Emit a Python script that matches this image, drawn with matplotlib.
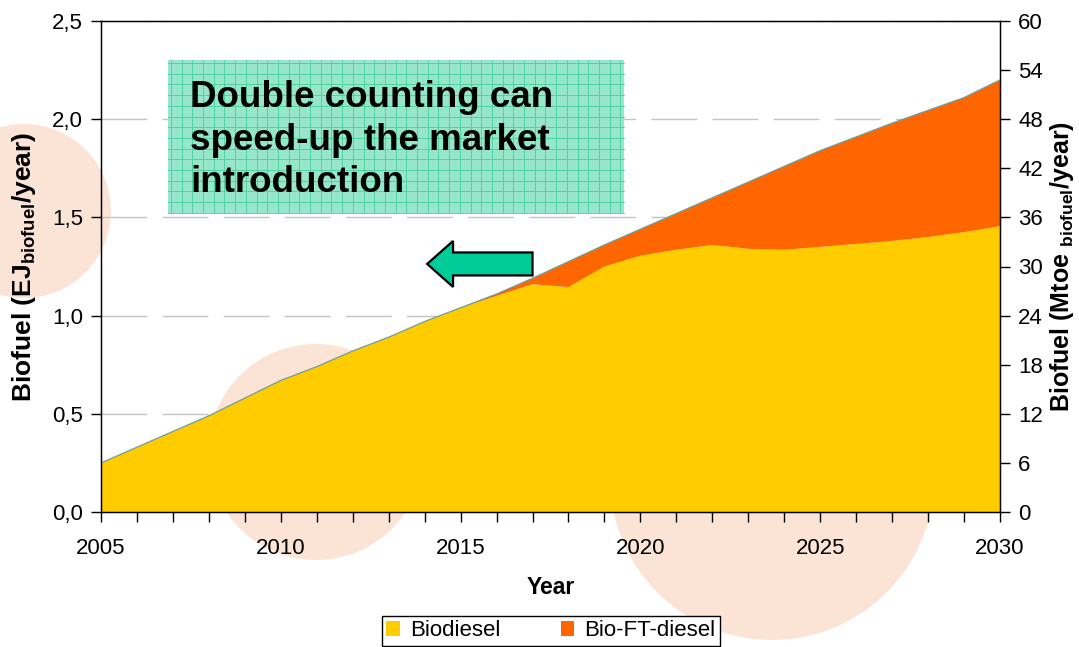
import numpy as np
import matplotlib
matplotlib.use('Agg')
import matplotlib.pyplot as plt
from matplotlib.patches import Circle, Rectangle, FancyArrow

plt.rcParams['font.family'] = ['Liberation Sans', 'DejaVu Sans']
plt.rcParams['mathtext.fontset'] = 'custom'
plt.rcParams['mathtext.rm'] = 'Liberation Sans'
plt.rcParams['mathtext.bf'] = 'Liberation Sans:bold'

years = list(range(2005, 2031))
biodiesel = [0.25, 0.33, 0.41, 0.49, 0.58, 0.67, 0.74, 0.82, 0.89, 0.97,
             1.04, 1.10, 1.16, 1.145, 1.25, 1.305, 1.335, 1.36, 1.34, 1.335,
             1.35, 1.365, 1.38, 1.40, 1.425, 1.455]
bio_ft = [0, 0, 0, 0, 0, 0, 0, 0, 0, 0,
          0, 0.01, 0.03, 0.13, 0.11, 0.135, 0.185, 0.24, 0.34, 0.425,
          0.49, 0.545, 0.60, 0.645, 0.685, 0.745]
series_names = ['Biodiesel', 'Bio-FT-diesel']

left_ticks = [0.0, 0.5, 1.0, 1.5, 2.0, 2.5]
left_labels = ['0,0', '0,5', '1,0', '1,5', '2,0', '2,5']
right_ticks = [0, 6, 12, 18, 24, 30, 36, 42, 48, 54, 60]
year_labels = [2005, 2010, 2015, 2020, 2025, 2030]

note = 'Double counting can\nspeed-up the market\nintroduction'

YELLOW = '#ffcc00'
ORANGE = '#ff6600'
PEACH = '#fbe4d5'

W, H = 1079, 647
fig = plt.figure(figsize=(W / 100, H / 100), dpi=100)

# decorative circles behind everything, in pixel units
bg = fig.add_axes([0, 0, 1, 1], zorder=-1)
bg.set_xlim(0, W)
bg.set_ylim(H, 0)
bg.axis('off')
for (cx, cy, r) in [(24, 211, 87), (316, 452, 108), (772, 478, 162)]:
    bg.add_patch(Circle((cx, cy), r, color=PEACH, lw=0))

ax = fig.add_axes([101 / W, 1 - 512 / H, 899 / W, 491 / H])
ax.patch.set_visible(False)
ax.set_axisbelow(True)

total = np.array(biodiesel) + np.array(bio_ft)
ax.stackplot(years, biodiesel, bio_ft, colors=[YELLOW, ORANGE],
             labels=series_names, lw=0, zorder=2)
ax.plot(years, total, color='#6f9c9c', lw=0.9, zorder=3)

ax.set_xlim(2005, 2030)
ax.set_ylim(0, 2.5)
ax.set_yticks(left_ticks)
ax.set_yticklabels(left_labels)
ax.set_xticks(year_labels)
ax.set_xticks(years, minor=True)
ax.tick_params(axis='both', which='both', direction='out', length=7,
               width=1, labelsize=16, colors='black', pad=6)
ax.tick_params(axis='x', which='both', pad=12)
ax.yaxis.grid(True, color='#c4c4c4', lw=1, dashes=(33, 11))
for s in ax.spines.values():
    s.set_color('black')
    s.set_linewidth(1)

ax.set_xlabel('Year', fontsize=16.5, fontweight='bold', labelpad=12)
ax.set_ylabel(r'Biofuel (EJ$_{\mathbf{biofuel}}$/year)', fontsize=19,
              fontweight='bold', labelpad=10)

ax2 = ax.twinx()
ax2.set_ylim(0, 60)
ax2.set_yticks(right_ticks)
ax2.tick_params(axis='y', direction='out', length=7, width=1, labelsize=16, pad=6)
ax2.set_ylabel(r'Biofuel (Mtoe $_{\mathbf{biofuel}}$/year)', fontsize=18,
               fontweight='bold', labelpad=4)

# arrow pointing back in time
ax.add_patch(FancyArrow(2017.0, 1.263, -2.93, 0, width=0.117, head_width=0.234,
                        head_length=0.72, length_includes_head=True,
                        fc='#00cc99', ec='black', lw=1.6, zorder=6))

# callout box with grid texture
top = fig.add_axes([0, 0, 1, 1], zorder=5)
top.set_xlim(0, W)
top.set_ylim(H, 0)
top.axis('off')
bx0, by0, bx1, by1 = 168, 60, 624, 213
top.add_patch(Rectangle((bx0, by0), bx1 - bx0, by1 - by0, fc='#96e6cc', lw=0))
for gx in np.arange(bx0 + 3, bx1, 10.7):
    top.plot([gx, gx], [by0, by1], color='#45cfa1', lw=0.6)
for gy in np.arange(by0 + 3, by1, 10.7):
    top.plot([bx0, bx1], [gy, gy], color='#45cfa1', lw=0.6)
top.text(190, 80, note, fontsize=26.5, fontweight='bold', va='top', ha='left',
         linespacing=1.28, color='black')

leg = fig.legend(loc='upper center', bbox_to_anchor=(551 / W, 1 - 616 / H),
                 ncol=2, fontsize=16, frameon=True, fancybox=False,
                 edgecolor='black', framealpha=1, handlelength=0.62,
                 handleheight=0.62, handletextpad=0.45, columnspacing=2.7,
                 borderpad=0.2, borderaxespad=0)
leg.get_frame().set_linewidth(1)

fig.savefig('out.png', dpi=100)
